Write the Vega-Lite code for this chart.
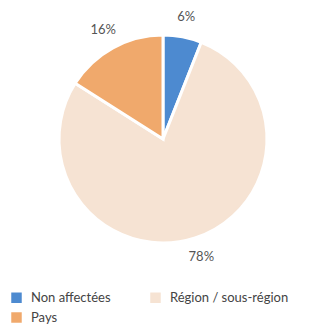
{
  "$schema": "https://vega.github.io/schema/vega-lite/v6.json",
  "width": 326,
  "height": 278,
  "padding": 0,
  "autosize": "pad",
  "background": "white",
  "data": {"values": [
    {"cat": "Non affectées", "pct": 6, "rank": 1, "label": "6%"},
    {"cat": "Région / sous-région", "pct": 78, "rank": 2, "label": "78%"},
    {"cat": "Pays", "pct": 16, "rank": 3, "label": "16%"}
  ]},
  "encoding": {
    "theta": {"field": "pct", "type": "quantitative", "stack": true},
    "order": {"field": "rank", "type": "quantitative"},
    "color": {
      "field": "cat", "type": "nominal",
      "sort": ["Non affectées", "Région / sous-région", "Pays"],
      "scale": {"domain": ["Non affectées", "Région / sous-région", "Pays"], "range": ["#4d8ad0", "#f6e3d3", "#f0a96c"]},
      "legend": {
        "orient": "none", "legendX": 10, "legendY": 291, "title": null,
        "direction": "horizontal",
        "columns": 2, "columnPadding": 38, "rowPadding": 6,
        "symbolType": "square", "symbolSize": 110, "symbolStrokeWidth": 0,
        "labelFontSize": 13, "labelFont": "Lato", "labelColor": "#444", "labelOffset": 8
      }
    }
  },
  "layer": [
    {"mark": {"type": "arc", "outerRadius": 104, "stroke": "white", "strokeWidth": 3}},
    {"mark": {"type": "text", "radius": 124, "fontSize": 13, "font": "Lato"},
     "encoding": {"text": {"field": "label"}, "color": {"value": "#555"}}}
  ]
}
